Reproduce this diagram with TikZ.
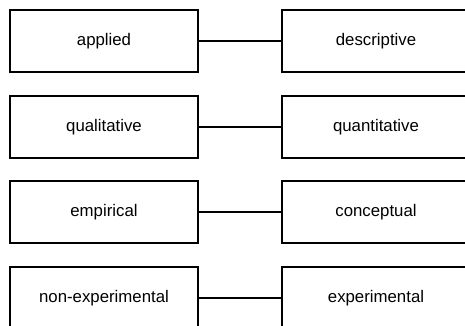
\documentclass[tikz,border=0pt]{standalone}
\usepackage{fontspec}
\setmainfont{Liberation Sans}
\begin{document}
\begin{tikzpicture}[x=1pt,y=-1pt,
  box/.style={draw=black,line width=1.6pt,minimum width=188pt,minimum height=62pt,inner sep=0pt,font=\fontsize{16.8}{19}\selectfont},
  link/.style={draw=black,line width=1.6pt}]
\useasboundingbox (0,0) rectangle (465,325);
\clip (0,0) rectangle (465,325);
\foreach \i/\a/\b/\y in {1/applied/descriptive/41,2/qualitative/quantitative/127,3/empirical/conceptual/212,4/non-experimental/experimental/298}{
  \node[box] (l\i) at (104,\y) {\a};
  \node[box] (r\i) at (376,\y) {\b};
  \draw[link] (l\i) -- (r\i);
}
\end{tikzpicture}
\end{document}
